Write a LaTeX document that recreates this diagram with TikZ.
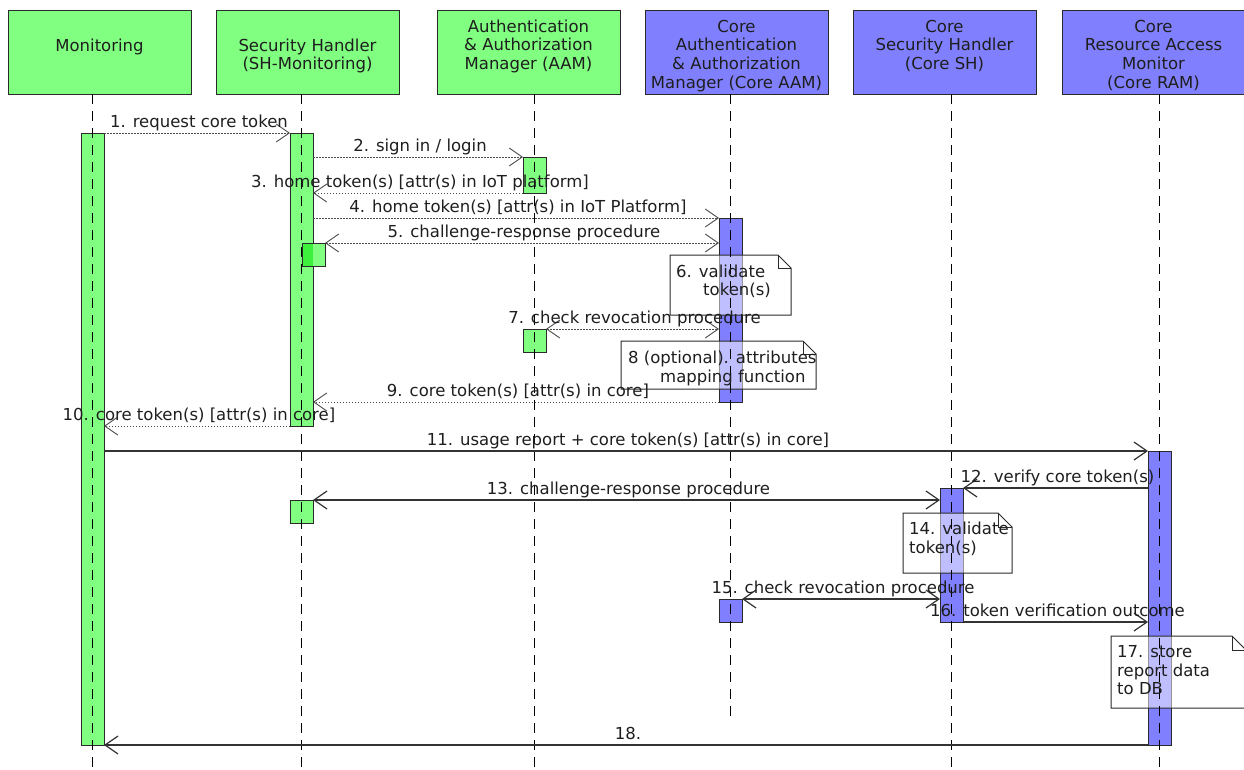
\documentclass[tikz,border=0pt]{standalone}
\usepackage{fontspec}
\setmainfont{DejaVu Sans}
\usetikzlibrary{arrows.meta}
\definecolor{lgreen}{HTML}{80FF80}
\definecolor{lblue}{HTML}{8080FF}
\definecolor{bgreen}{HTML}{3CF03C}
\definecolor{txt}{HTML}{1E1E1E}
\definecolor{edge}{HTML}{2A2A2A}
\newcommand\umlnote[5]{%
  \fill[white,opacity=0.5] (#1,#2) -- (#3-#5,#2) -- (#3,#2+#5) -- (#3,#4) -- (#1,#4) -- cycle;
  \draw[edge,line width=1pt] (#1,#2) -- (#3-#5,#2) -- (#3,#2+#5) -- (#3,#4) -- (#1,#4) -- cycle;
  \draw[edge,line width=1pt] (#3-#5,#2) -- (#3-#5,#2+#5) -- (#3,#2+#5);
}
\begin{document}
\begin{tikzpicture}[x=1pt,y=-1pt,
  font=\fontsize{16.5}{18.7}\selectfont,
  >={Straight Barb[length=13pt,width=18pt]},
  head/.style={draw=edge, line width=1pt, anchor=north west, minimum width=183pt, minimum height=84pt, inner sep=0},
  htext/.style={anchor=north, align=center, inner sep=0, text=txt},
  gbar/.style={draw=edge, line width=1pt, fill=lgreen, anchor=north west, minimum width=23pt, inner sep=0, outer sep=0},
  bbar/.style={gbar, fill=lblue},
  life/.style={draw=black, line width=1.3pt, dash pattern=on 10pt off 7pt},
  dmsg/.style={draw=black!70, line width=0.9pt, dash pattern=on 1.5pt off 1.5pt},
  smsg/.style={draw=black!80, line width=1.2pt},
  lab/.style={midway, anchor=base, yshift=6pt, xshift=2pt, text=txt, inner sep=0},
  nt/.style={anchor=base west, inner sep=0, text=txt}]
\useasboundingbox (0,0) rectangle (1244,769);

% headers
\node[head, fill=lgreen] (monH) at (8,10) {};
\node[head, fill=lgreen] (shH) at (216,10) {};
\node[head, fill=lgreen] (aamH) at (437,10) {};
\node[head, fill=lblue] (caamH) at (645,10) {};
\node[head, fill=lblue] (cshH) at (853,10) {};
\node[head, fill=lblue] (cramH) at (1062,10) {};
\node[htext] (monT) at (99.5,37.9) {\strut Monitoring};
\node[htext] (shT) at (307.5,37.9) {\strut Security Handler\\(SH-Monitoring)};
\node[htext] (aamT) at (528.5,18.9) {\strut Authentication\\\& Authorization\\Manager (AAM)};
\node[htext] (caamT) at (736.5,18.9) {\strut Core\\Authentication\\\& Authorization\\Manager (Core AAM)};
\node[htext] (cshT) at (944.5,18.9) {\strut Core\\Security Handler\\(Core SH)};
\node[htext] (cramT) at (1153.5,18.9) {\strut Core\\Resource Access\\Monitor\\(Core RAM)};

% activation bars
\node[gbar, minimum height=612pt] (monbar) at (81,133) {};
\node[gbar, minimum height=293pt] (shbar) at (290,133) {};
\node[gbar, minimum height=23pt] (shbar5) at (302,243) {};
\fill[bgreen] (302.5,243.5) rectangle (313,265.5);
\draw[edge, line width=1pt] (302,243) rectangle (325,266);
\node[gbar, minimum height=36pt] (aambar1) at (523,157) {};
\node[gbar, minimum height=23pt] (aambar2) at (523,329) {};
\node[bbar, minimum height=184pt] (caambar) at (719,218) {};
\node[gbar, minimum height=23pt] (shbar13) at (290,500) {};
\node[bbar, minimum height=134pt] (cshbar) at (940,488) {};
\node[bbar, minimum height=23pt] (caambar15) at (719,599) {};
\node[bbar, minimum height=294pt] (crambar) at (1148,451) {};

% notes (shapes)
\umlnote{670}{255}{791}{315}{13}
\umlnote{621}{341}{816}{389}{13}
\umlnote{903}{513}{1012}{573}{14}
\umlnote{1111}{636}{1246}{708}{14}

% lifelines
\coordinate (monL0) at (92.5,94);  \coordinate (monL1) at (92.5,769);
\coordinate (shL0) at (301.5,94);  \coordinate (shL1) at (301.5,769);
\coordinate (aamL0) at (534.5,94); \coordinate (aamL1) at (534.5,769);
\coordinate (caamL0) at (730.5,94); \coordinate (caamL1) at (730.5,721);
\coordinate (cshL0) at (951.5,94); \coordinate (cshL1) at (951.5,769);
\coordinate (cramL0) at (1159.5,94); \coordinate (cramL1) at (1159.5,769);
\draw[life] (monL0) -- (monL1);
\draw[life] (shL0) -- (shL1);
\draw[life] (aamL0) -- (aamL1);
\draw[life] (caamL0) -- (caamL1);
\draw[life] (cshL0) -- (cshL1);
\draw[life] (cramL0) -- (cramL1);

% messages
\draw[dmsg,->] (monbar.east |- shbar.north) -- (shbar.north west) node[lab] (l1) {1. request core token};
\draw[dmsg,->] (shbar.east |- aambar1.north) -- (aambar1.north west) node[lab] (l2) {2. sign in / login};
\draw[dmsg,->] (aambar1.south west) -- (shbar.east |- aambar1.south) node[lab] (l3) {3. home token(s) [attr(s) in IoT platform]};
\draw[dmsg,->] (shbar.east |- caambar.north) -- (caambar.north west) node[lab] (l4) {4. home token(s) [attr(s) in IoT Platform]};
\draw[dmsg,<->] (shbar5.north east) -- (caambar.west |- shbar5.north) node[lab] (l5) {5. challenge-response procedure};
\draw[dmsg,<->] (aambar2.north east) -- (caambar.west |- aambar2.north) node[lab] (l7) {7. check revocation procedure};
\draw[dmsg,->] (caambar.south west) -- (shbar.east |- caambar.south) node[lab] (l9) {9. core token(s) [attr(s) in core]};
\draw[dmsg,->] (shbar.south west) -- (monbar.east |- shbar.south) node[lab] (l10) {10. core token(s) [attr(s) in core]};
\draw[smsg,->] (monbar.east |- crambar.north) -- (crambar.north west) node[lab] (l11) {11. usage report + core token(s) [attr(s) in core]};
\draw[smsg,->] (crambar.west |- cshbar.north) -- (cshbar.north east) node[lab] (l12) {12. verify core token(s)};
\draw[smsg,<->] (shbar13.north east) -- (cshbar.west |- shbar13.north) node[lab] (l13) {13. challenge-response procedure};
\draw[smsg,<->] (caambar15.north east) -- (cshbar.west |- caambar15.north) node[lab] (l15) {15. check revocation procedure};
\draw[smsg,->] (cshbar.south east) -- (crambar.west |- cshbar.south) node[lab] (l16) {16. token verification outcome};
\draw[smsg,->] (crambar.south west) -- (monbar.east |- crambar.south) node[lab] (l18) {18.};

% note texts
\node[nt] (n6a) at (676,277) {6. validate};
\node[nt] (n6b) at (703,295) {token(s)};
\node[nt] (n8a) at (628,363) {8 (optional). attributes};
\node[nt] (n8b) at (660,382) {mapping function};
\node[nt] (n14a) at (909,534) {14. validate};
\node[nt] (n14b) at (909,553) {token(s)};
\node[nt] (n17a) at (1117,657) {17. store};
\node[nt] (n17b) at (1117,676) {report data};
\node[nt] (n17c) at (1117,694) {to DB};
\end{tikzpicture}
\end{document}
